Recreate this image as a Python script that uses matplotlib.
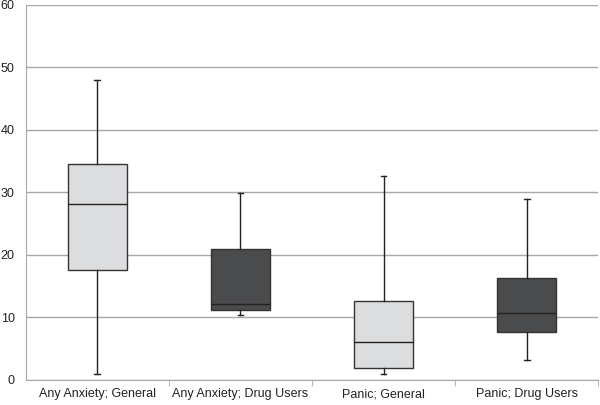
import matplotlib
matplotlib.use("Agg")
import matplotlib.pyplot as plt

plt.rcParams["font.family"] = ["Liberation Sans", "DejaVu Sans"]

categorias = ["Any Anxiety; General", "Any Anxiety; Drug Users",
              "Panic; General", "Panic; Drug Users"]
minimos = [1.0, 10.4, 1.0, 3.2]
q1 = [17.6, 11.2, 1.9, 7.7]
medianas = [28.2, 12.1, 6.0, 10.7]
q3 = [34.6, 21.0, 12.7, 16.3]
maximos = [48.0, 29.9, 32.6, 29.0]
cores = ["#dcdddf", "#4a4b4d", "#dcdddf", "#4a4b4d"]

stats = [
    dict(label=c, whislo=lo, q1=a, med=m, q3=b, whishi=hi, fliers=[])
    for c, lo, a, m, b, hi in zip(categorias, minimos, q1, medianas, q3, maximos)
]

fig = plt.figure(figsize=(6, 4.05), dpi=100)
ax = fig.add_axes([0.043, 0.062, 0.954, 0.926])

posicoes = list(range(1, len(categorias) + 1))
bp = ax.bxp(
    stats,
    positions=posicoes,
    widths=0.41,
    capwidths=0.04,
    patch_artist=True,
    showfliers=False,
    boxprops=dict(edgecolor="#333333", linewidth=1.0),
    medianprops=dict(color="#222222", linewidth=1.0),
    whiskerprops=dict(color="#222222", linewidth=1.0),
    capprops=dict(color="#222222", linewidth=1.0),
    zorder=3,
)
for caixa, cor in zip(bp["boxes"], cores):
    caixa.set_facecolor(cor)

ax.set_xlim(0.5, len(categorias) + 0.5)
ax.set_ylim(0, 60)
ax.set_yticks(range(0, 61, 10))
ax.yaxis.grid(True, color="#a8a8a8", linewidth=1.0, zorder=0)
ax.set_axisbelow(True)

ax.set_xticks(posicoes)
ax.set_xticklabels(categorias)
ax.set_xticks([p + 0.5 for p in posicoes], minor=True)
ax.tick_params(axis="x", which="major", length=0, pad=6, labelsize=9, labelcolor="#222222")
ax.tick_params(axis="x", which="minor", length=4, color="#a8a8a8")
ax.tick_params(axis="y", length=0, pad=8, labelsize=9, labelcolor="#222222")

for lado in ["top", "right"]:
    ax.spines[lado].set_visible(False)
for lado in ["left", "bottom"]:
    ax.spines[lado].set_color("#a8a8a8")

fig.savefig("out.png", dpi=100)
